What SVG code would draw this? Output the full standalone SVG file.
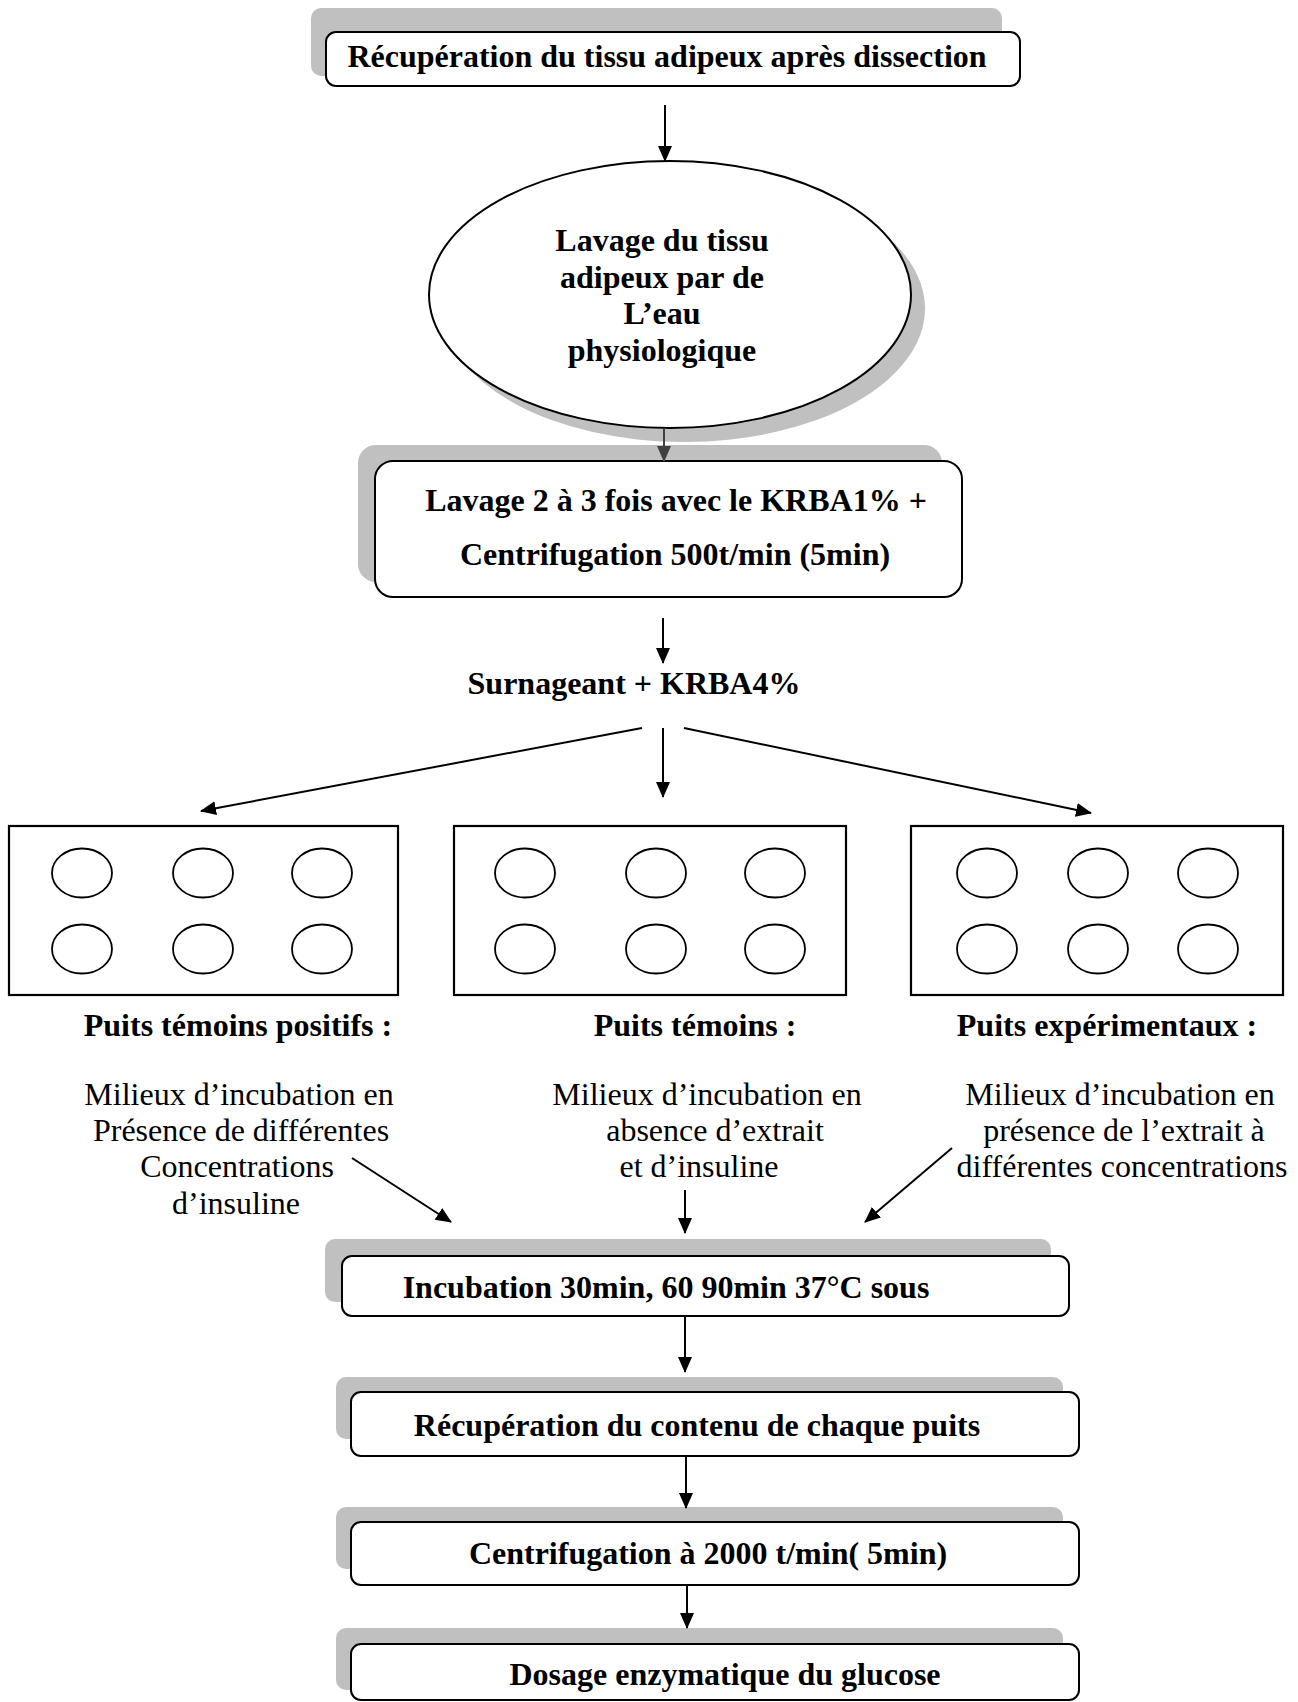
<svg xmlns="http://www.w3.org/2000/svg" width="1298" height="1702" viewBox="0 0 1298 1702">
<style>
.sh{fill:#c0c0c0;stroke:none}
.bx{fill:#fff;stroke:#000;stroke-width:2}
.pl{fill:#fff;stroke:#000;stroke-width:2.2}
.wl{fill:none;stroke:#000;stroke-width:1.8}
.b{font-family:"Liberation Serif","Times New Roman",serif;font-weight:bold;font-size:32px;fill:#000;text-anchor:middle}
.n{font-family:"Liberation Serif","Times New Roman",serif;font-size:32px;fill:#000;text-anchor:middle}
.c{stroke:#000;stroke-width:2;fill:none;marker-end:url(#ah)}
.cg{stroke:#404040;stroke-width:2;fill:none;marker-end:url(#ahg)}
</style>
<defs>
<marker id="ah" markerUnits="userSpaceOnUse" markerWidth="16" markerHeight="16" viewBox="0 0 16 16" refX="15" refY="8" orient="auto">
<path d="M0,1 L16,8 L0,15 z" fill="#000"/>
</marker>
<marker id="ahg" markerUnits="userSpaceOnUse" markerWidth="16" markerHeight="16" viewBox="0 0 16 16" refX="15" refY="8" orient="auto">
<path d="M0,1 L16,8 L0,15 z" fill="#404040"/>
</marker>
</defs>
<rect width="1298" height="1702" fill="#fff"/>

<g id="n1">
<rect class="sh" x="311" y="8" width="691" height="68" rx="10"/>
<rect class="bx" x="326" y="32" width="694" height="54" rx="10"/>
<text class="b" x="667" y="67">Récupération du tissu adipeux après dissection</text>
</g>

<g id="n2">
<ellipse class="sh" cx="684" cy="308.5" rx="241" ry="133.5"/>
<ellipse class="bx" cx="670" cy="294.5" rx="241" ry="133.5"/>
<text class="b" x="662" y="251">Lavage du tissu</text>
<text class="b" x="662" y="288">adipeux par de</text>
<text class="b" x="662" y="324">L’eau</text>
<text class="b" x="662" y="361">physiologique</text>
</g>

<g id="n3">
<rect class="sh" x="358" y="445" width="584" height="137" rx="18"/>
<rect class="bx" x="375" y="461" width="587" height="136" rx="18"/>
<text class="b" x="676" y="511">Lavage 2 à 3 fois avec le KRBA1% +</text>
<text class="b" x="675" y="565">Centrifugation 500t/min (5min)</text>
</g>

<g id="n4">
<text class="b" x="634" y="694">Surnageant + KRBA4%</text>
</g>

<g id="plate1">
<rect class="pl" x="9" y="826" width="389" height="169"/>
<ellipse class="wl" cx="82" cy="873" rx="30" ry="24.5"/>
<ellipse class="wl" cx="203" cy="873" rx="30" ry="24.5"/>
<ellipse class="wl" cx="322" cy="873" rx="30" ry="24.5"/>
<ellipse class="wl" cx="82" cy="949" rx="30" ry="24.5"/>
<ellipse class="wl" cx="203" cy="949" rx="30" ry="24.5"/>
<ellipse class="wl" cx="322" cy="949" rx="30" ry="24.5"/>
</g>

<g id="plate2">
<rect class="pl" x="454" y="826" width="392" height="169"/>
<ellipse class="wl" cx="525" cy="873" rx="30" ry="24.5"/>
<ellipse class="wl" cx="656" cy="873" rx="30" ry="24.5"/>
<ellipse class="wl" cx="775" cy="873" rx="30" ry="24.5"/>
<ellipse class="wl" cx="525" cy="949" rx="30" ry="24.5"/>
<ellipse class="wl" cx="656" cy="949" rx="30" ry="24.5"/>
<ellipse class="wl" cx="775" cy="949" rx="30" ry="24.5"/>
</g>

<g id="plate3">
<rect class="pl" x="911" y="826" width="372" height="169"/>
<ellipse class="wl" cx="987" cy="873" rx="30" ry="24.5"/>
<ellipse class="wl" cx="1098" cy="873" rx="30" ry="24.5"/>
<ellipse class="wl" cx="1208" cy="873" rx="30" ry="24.5"/>
<ellipse class="wl" cx="987" cy="949" rx="30" ry="24.5"/>
<ellipse class="wl" cx="1098" cy="949" rx="30" ry="24.5"/>
<ellipse class="wl" cx="1208" cy="949" rx="30" ry="24.5"/>
</g>

<g id="label1">
<text class="b" x="238" y="1036">Puits témoins positifs :</text>
<text class="n" x="239" y="1105">Milieux d’incubation en</text>
<text class="n" x="241" y="1141">Présence de différentes</text>
<text class="n" x="237" y="1177">Concentrations</text>
<text class="n" x="236" y="1214">d’insuline</text>
</g>

<g id="label2">
<text class="b" x="695" y="1036">Puits témoins :</text>
<text class="n" x="707" y="1105">Milieux d’incubation en</text>
<text class="n" x="715" y="1141">absence d’extrait</text>
<text class="n" x="699" y="1177">et d’insuline</text>
</g>

<g id="label3">
<text class="b" x="1107" y="1036">Puits expérimentaux :</text>
<text class="n" x="1120" y="1105">Milieux d’incubation en</text>
<text class="n" x="1124" y="1141">présence de l’extrait à</text>
<text class="n" x="1122" y="1177">différentes concentrations</text>
</g>

<g id="n5">
<rect class="sh" x="325" y="1239" width="726" height="63" rx="10"/>
<rect class="bx" x="342" y="1256" width="727" height="60" rx="10"/>
<text class="b" x="666" y="1298">Incubation 30min, 60 90min 37°C sous</text>
</g>

<g id="n6">
<rect class="sh" x="336" y="1377" width="727" height="62" rx="10"/>
<rect class="bx" x="351" y="1392" width="728" height="64" rx="10"/>
<text class="b" x="697" y="1436">Récupération du contenu de chaque puits</text>
</g>

<g id="n7">
<rect class="sh" x="336" y="1507" width="727" height="62" rx="10"/>
<rect class="bx" x="351" y="1522" width="728" height="63" rx="10"/>
<text class="b" x="708" y="1564">Centrifugation à 2000 t/min( 5min)</text>
</g>

<g id="n8">
<rect class="sh" x="336" y="1628" width="727" height="62" rx="10"/>
<rect class="bx" x="351" y="1644" width="728" height="56" rx="10"/>
<text class="b" x="725" y="1685">Dosage enzymatique du glucose</text>
</g>

<g id="connectors">
<line class="c" x1="665" y1="105" x2="665" y2="161"/>
<line class="cg" x1="664" y1="428" x2="664" y2="461"/>
<line class="c" x1="663" y1="618" x2="663" y2="663"/>
<line class="c" x1="642" y1="728" x2="201" y2="811"/>
<line class="c" x1="663" y1="728" x2="663" y2="797"/>
<line class="c" x1="684" y1="728" x2="1091" y2="813"/>
<line class="c" x1="352" y1="1158" x2="451" y2="1222"/>
<line class="c" x1="685" y1="1190" x2="685" y2="1233"/>
<line class="c" x1="952" y1="1148" x2="865" y2="1222"/>
<line class="c" x1="685" y1="1316" x2="685" y2="1372"/>
<line class="c" x1="686" y1="1456" x2="686" y2="1508"/>
<line class="c" x1="687" y1="1585" x2="687" y2="1628"/>
</g>
</svg>
